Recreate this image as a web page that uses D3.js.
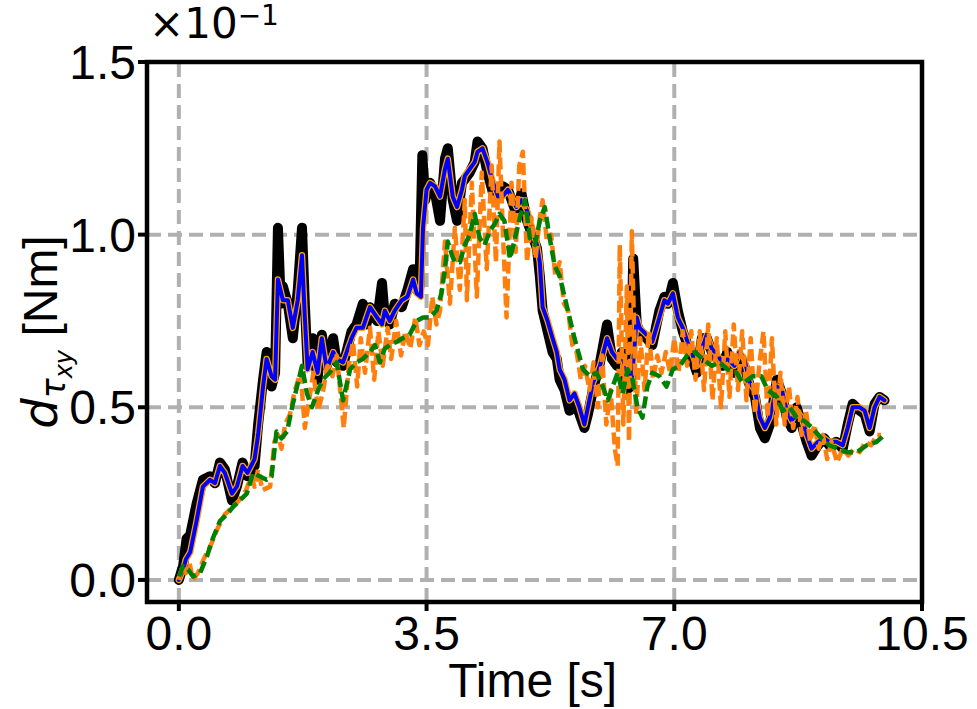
<!DOCTYPE html>
<html><head><meta charset="utf-8">
<script src="https://cdn.jsdelivr.net/npm/d3@7"></script>
<style>body{margin:0;background:#fff}svg{display:block}</style>
</head><body>
<svg id="c" width="977" height="709"></svg>
<script>
// values in units of 1e-1 Nm
const xTicks = [0, 3.5, 7.0, 10.5];
const xTickLabels = ["0.0", "3.5", "7.0", "10.5"];
const yTicks = [0, 0.5, 1.0, 1.5];
const yTickLabels = ["0.0", "0.5", "1.0", "1.5"];

const blackT = [0,0.06,0.11,0.16,0.25,0.34,0.44,0.51,0.58,0.65,0.75,0.82,0.90,0.97,1.07,1.12,1.19,1.24,1.31,1.36,1.40,1.44,1.47,1.54,1.61,1.68,1.74,1.78,1.82,1.89,1.96,2.02,2.09,2.18,2.23,2.32,2.44,2.51,2.60,2.65,2.70,2.80,2.87,2.91,2.98,3.05,3.15,3.23,3.31,3.36,3.40,3.44,3.48,3.55,3.62,3.69,3.76,3.80,3.87,3.93,4.00,4.04,4.11,4.18,4.22,4.29,4.36,4.44,4.51,4.58,4.65,4.77,4.84,4.92,4.99,5.06,5.10,5.14,5.21,5.28,5.34,5.38,5.45,5.52,5.59,5.66,5.73,5.78,5.85,5.95,6.05,6.12,6.19,6.26,6.33,6.38,6.42,6.47,6.51,6.61,6.69,6.79,6.86,6.91,6.98,7.05,7.12,7.22,7.32,7.39,7.46,7.53,7.61,7.68,7.75,7.85,7.92,7.99,8.07,8.14,8.21,8.28,8.35,8.45,8.52,8.59,8.66,8.73,8.80,8.87,8.94,9.03,9.12,9.19,9.29,9.38,9.45,9.52,9.62,9.69,9.76,9.83,9.90,9.97];
const blackV = [0,0.04,0.12,0.13,0.22,0.29,0.30,0.28,0.34,0.32,0.23,0.27,0.34,0.30,0.33,0.45,0.58,0.66,0.56,0.60,1.02,0.80,0.85,0.80,0.70,0.84,1.02,0.80,0.62,0.70,0.58,0.71,0.62,0.70,0.63,0.62,0.72,0.74,0.80,0.74,0.79,0.75,0.86,0.76,0.74,0.80,0.79,0.84,0.90,0.84,0.85,1.23,1.10,1.15,1.12,1.04,1.22,1.25,1.10,1.04,1.15,1.16,1.18,1.21,1.27,1.25,1.18,1.12,1.11,1.14,1.13,1.06,1.12,1.04,1.00,0.96,0.88,0.78,0.72,0.66,0.64,0.58,0.55,0.49,0.52,0.48,0.44,0.48,0.55,0.63,0.74,0.64,0.62,0.66,0.55,0.56,0.93,0.74,0.72,0.70,0.68,0.78,0.82,0.80,0.86,0.78,0.72,0.66,0.60,0.70,0.70,0.66,0.64,0.62,0.66,0.60,0.64,0.62,0.56,0.53,0.44,0.41,0.45,0.58,0.54,0.47,0.44,0.50,0.45,0.40,0.36,0.39,0.41,0.39,0.40,0.38,0.45,0.51,0.49,0.48,0.43,0.51,0.53,0.52];

const blueT = [0,0.06,0.10,0.16,0.25,0.34,0.44,0.51,0.58,0.65,0.75,0.82,0.90,0.97,1.07,1.12,1.19,1.24,1.31,1.36,1.40,1.47,1.54,1.61,1.68,1.74,1.78,1.82,1.89,1.96,2.02,2.09,2.18,2.23,2.32,2.44,2.51,2.60,2.70,2.80,2.87,2.91,2.98,3.05,3.15,3.23,3.31,3.36,3.42,3.45,3.50,3.55,3.62,3.69,3.76,3.80,3.87,3.93,4.00,4.04,4.11,4.18,4.22,4.29,4.36,4.44,4.51,4.53,4.65,4.77,4.84,4.92,4.99,5.06,5.10,5.14,5.21,5.28,5.34,5.38,5.45,5.52,5.59,5.66,5.73,5.78,5.85,5.95,6.05,6.12,6.19,6.26,6.33,6.40,6.47,6.51,6.61,6.69,6.79,6.86,6.91,6.98,7.05,7.12,7.22,7.32,7.39,7.46,7.53,7.61,7.68,7.75,7.85,7.92,7.99,8.07,8.14,8.21,8.28,8.35,8.45,8.52,8.59,8.66,8.73,8.80,8.87,8.94,9.03,9.12,9.19,9.29,9.38,9.45,9.52,9.62,9.69,9.76,9.83,9.90,9.97];
const blueV = [0,0.03,0.06,0.08,0.17,0.27,0.29,0.28,0.33,0.31,0.25,0.27,0.33,0.31,0.35,0.42,0.56,0.64,0.59,0.58,0.87,0.81,0.81,0.73,0.81,0.94,0.76,0.61,0.66,0.60,0.70,0.61,0.66,0.64,0.63,0.70,0.73,0.73,0.79,0.76,0.74,0.78,0.75,0.78,0.81,0.82,0.87,0.83,0.82,1.02,1.13,1.15,1.14,1.11,1.19,1.22,1.11,1.08,1.13,1.17,1.19,1.21,1.24,1.25,1.21,1.15,1.11,1.10,1.13,1.08,1.10,1.07,1.02,0.97,0.92,0.79,0.75,0.70,0.66,0.61,0.58,0.52,0.54,0.50,0.45,0.50,0.57,0.62,0.70,0.66,0.64,0.65,0.60,0.58,0.76,0.73,0.71,0.69,0.76,0.81,0.80,0.83,0.76,0.73,0.67,0.62,0.67,0.71,0.67,0.65,0.63,0.64,0.62,0.66,0.64,0.57,0.55,0.47,0.44,0.47,0.56,0.55,0.49,0.46,0.49,0.47,0.42,0.38,0.40,0.41,0.40,0.40,0.39,0.44,0.50,0.50,0.49,0.44,0.50,0.53,0.52];

const greenT = [0,0.06,0.13,0.20,0.30,0.40,0.48,0.58,0.68,0.76,0.86,0.96,1.05,1.14,1.24,1.31,1.38,1.45,1.53,1.60,1.67,1.74,1.81,1.88,1.95,2.03,2.13,2.23,2.32,2.42,2.51,2.60,2.70,2.77,2.84,2.91,2.98,3.08,3.16,3.26,3.36,3.45,3.55,3.64,3.71,3.76,3.80,3.86,3.90,3.97,4.04,4.11,4.18,4.25,4.32,4.39,4.46,4.53,4.60,4.68,4.75,4.82,4.89,4.96,5.03,5.10,5.17,5.24,5.31,5.38,5.45,5.52,5.59,5.71,5.81,5.90,5.99,6.06,6.13,6.20,6.27,6.34,6.41,6.48,6.55,6.62,6.69,6.79,6.89,6.98,7.08,7.18,7.29,7.40,7.53,7.64,7.75,7.88,7.97,8.11,8.23,8.32,8.45,8.53,8.63,8.73,8.84,8.95,9.08,9.19,9.31,9.44,9.58,9.72,9.86,9.97];
const greenV = [0.01,0.04,0.03,0.01,0.02,0.07,0.12,0.17,0.19,0.21,0.23,0.25,0.31,0.30,0.29,0.30,0.43,0.41,0.43,0.50,0.56,0.62,0.54,0.50,0.54,0.58,0.60,0.63,0.52,0.61,0.63,0.64,0.66,0.68,0.63,0.67,0.68,0.69,0.70,0.71,0.75,0.76,0.76,0.78,0.83,0.90,0.98,0.94,0.92,0.92,0.97,1.00,1.06,0.99,0.97,1.01,1.03,1.06,1.04,0.93,0.99,1.05,1.10,0.99,0.97,1.04,1.08,0.99,0.91,0.88,0.82,0.76,0.70,0.61,0.59,0.60,0.56,0.52,0.56,0.60,0.54,0.61,0.58,0.50,0.47,0.56,0.60,0.59,0.56,0.61,0.62,0.65,0.66,0.64,0.62,0.63,0.61,0.60,0.57,0.59,0.59,0.55,0.53,0.49,0.50,0.47,0.46,0.44,0.41,0.39,0.38,0.37,0.37,0.39,0.40,0.42];

const orangeT = [0,0.05,0.10,0.15,0.20,0.27,0.35,0.45,0.55,0.65,0.75,0.85,0.95,1.02,1.07,1.12,1.18,1.29,1.35,1.40,1.45,1.50,1.57,1.64,1.72,1.78,1.84,1.90,1.97,2.04,2.10,2.17,2.23,2.28,2.33,2.40,2.46,2.52,2.57,2.63,2.70,2.76,2.82,2.88,2.95,3.00,3.07,3.14,3.20,3.27,3.34,3.40,3.46,3.52,3.58,3.64,3.69,3.76,3.83,3.90,3.97,4.04,4.07,4.14,4.21,4.28,4.35,4.42,4.48,4.53,4.58,4.63,4.70,4.76,4.81,4.86,4.92,4.98,5.04,5.10,5.14,5.20,5.26,5.32,5.38,5.44,5.50,5.56,5.62,5.68,5.74,5.80,5.86,5.92,5.98,6.04,6.10,6.16,6.20,6.23,6.28,6.33,6.36,6.40,6.46,6.52,6.58,6.64,6.70,6.76,6.82,6.88,6.94,7.00,7.06,7.12,7.18,7.24,7.30,7.36,7.42,7.48,7.54,7.60,7.66,7.72,7.78,7.84,7.90,7.96,8.02,8.08,8.14,8.20,8.26,8.32,8.38,8.44,8.50,8.56,8.62,8.68,8.74,8.80,8.86,8.92,8.98,9.04,9.10,9.16,9.22,9.30,9.38,9.46,9.54,9.62,9.70,9.78,9.86,9.92];
const orangeV = [0,0.04,0.02,0.05,0.00,0.02,0.06,0.10,0.15,0.19,0.21,0.23,0.26,0.30,0.27,0.32,0.26,0.27,0.40,0.42,0.38,0.45,0.48,0.55,0.60,0.44,0.52,0.60,0.49,0.55,0.62,0.59,0.65,0.55,0.44,0.62,0.69,0.56,0.70,0.60,0.73,0.58,0.72,0.62,0.73,0.64,0.75,0.65,0.72,0.67,0.76,0.68,0.72,0.68,0.82,0.74,0.78,0.98,0.80,1.02,0.84,1.10,0.81,1.15,0.82,1.18,0.90,1.20,0.92,1.27,1.00,0.76,1.15,0.95,1.20,1.24,0.92,1.05,0.93,1.05,1.10,0.98,1.00,0.88,0.92,0.80,0.78,0.68,0.66,0.58,0.62,0.55,0.63,0.50,0.65,0.45,0.55,0.38,0.33,0.97,0.45,0.85,0.40,1.01,0.48,0.70,0.55,0.72,0.58,0.65,0.60,0.66,0.60,0.70,0.60,0.72,0.62,0.72,0.58,0.72,0.55,0.74,0.52,0.70,0.50,0.72,0.53,0.74,0.55,0.72,0.52,0.70,0.48,0.62,0.72,0.47,0.70,0.45,0.60,0.45,0.56,0.44,0.53,0.42,0.49,0.40,0.45,0.38,0.42,0.35,0.40,0.34,0.38,0.36,0.38,0.37,0.40,0.39,0.42,0.42];

const svg = d3.select("#c");
const L = 147, R = 922, T = 62, B = 602;
const x = d3.scaleLinear().domain([-0.45, 10.5]).range([L, R]);
const y = d3.scaleLinear().domain([-0.064, 1.5]).range([B, T]);

svg.append("defs").append("clipPath").attr("id","clip")
  .append("rect").attr("x",L).attr("y",T).attr("width",R-L).attr("height",B-T);

// grid
const grid = svg.append("g").attr("stroke","#b0b0b0").attr("stroke-width",4).attr("stroke-dasharray","14,7");
xTicks.slice(0,3).forEach(v => grid.append("line").attr("x1",x(v)).attr("x2",x(v)).attr("y1",B).attr("y2",T));
yTicks.slice(0,3).forEach(v => grid.append("line").attr("y1",y(v)).attr("y2",y(v)).attr("x1",L).attr("x2",R));

const line = d3.line().x(d => x(d[0])).y(d => y(d[1]));
const zip = (t, v) => t.map((tt, i) => [tt, v[i]]);
const g = svg.append("g").attr("clip-path","url(#clip)").attr("fill","none")
  .attr("stroke-linejoin","round").attr("stroke-linecap","round");

g.append("path").attr("d", line(zip(blackT, blackV))).attr("stroke","#000").attr("stroke-width",10);
g.append("path").attr("d", line(zip(blueT, blueV))).attr("stroke","#FFA500").attr("stroke-width",6.5);
g.append("path").attr("d", line(zip(blueT, blueV))).attr("stroke","#0000FF").attr("stroke-width",4);
g.append("path").attr("d", line(zip(orangeT, orangeV))).attr("stroke","#ff7f0e").attr("stroke-width",4.5)
  .attr("stroke-dasharray","12,5").attr("stroke-linecap","butt");
g.append("path").attr("d", line(zip(greenT, greenV))).attr("stroke","#008000").attr("stroke-width",4.5)
  .attr("stroke-dasharray","12,5").attr("stroke-linecap","butt");

// frame
svg.append("rect").attr("x",L).attr("y",T).attr("width",R-L).attr("height",B-T)
  .attr("fill","none").attr("stroke","#000").attr("stroke-width",4.5);

// ticks
const font = "'Liberation Sans', Arial, sans-serif";
xTicks.forEach((v,i) => {
  svg.append("line").attr("x1",x(v)).attr("x2",x(v)).attr("y1",B).attr("y2",B+9).attr("stroke","#000").attr("stroke-width",4);
  svg.append("text").attr("x",x(v)).attr("y",650).attr("text-anchor","middle")
    .attr("font-family",font).attr("font-size",48).text(xTickLabels[i]);
});
yTicks.forEach((v,i) => {
  svg.append("line").attr("x1",L-9).attr("x2",L).attr("y1",y(v)).attr("y2",y(v)).attr("stroke","#000").attr("stroke-width",4);
  svg.append("text").attr("x",136).attr("y",y(v)+17).attr("text-anchor","end")
    .attr("font-family",font).attr("font-size",48).text(yTickLabels[i]);
});

// offset text
const off = svg.append("text").attr("x",149).attr("y",38).attr("font-family","'DejaVu Sans', sans-serif").attr("font-size",42);
off.append("tspan").text("×10");
off.append("tspan").attr("dy",-13).attr("font-size",28).text("−1");

// axis labels
svg.append("text").attr("x",x(5.0)).attr("y",697).attr("text-anchor","middle")
  .attr("font-family",font).attr("font-size",48).text("Time [s]");

const yl = svg.append("text").attr("transform","translate(57,332) rotate(-90)").attr("text-anchor","middle")
  .attr("font-family",font).attr("font-size",48);
yl.append("tspan").attr("font-family","'DejaVu Sans', sans-serif").attr("font-style","italic").text("d");
yl.append("tspan").attr("font-family","'DejaVu Sans', sans-serif").attr("font-style","italic").attr("font-size",33).attr("dy",8).text("τ");
yl.append("tspan").attr("font-family","'DejaVu Sans', sans-serif").attr("font-style","italic").attr("font-size",24).attr("dy",7).text("xy");
yl.append("tspan").attr("dy",-15).text(" [Nm]");
</script>
</body></html>
